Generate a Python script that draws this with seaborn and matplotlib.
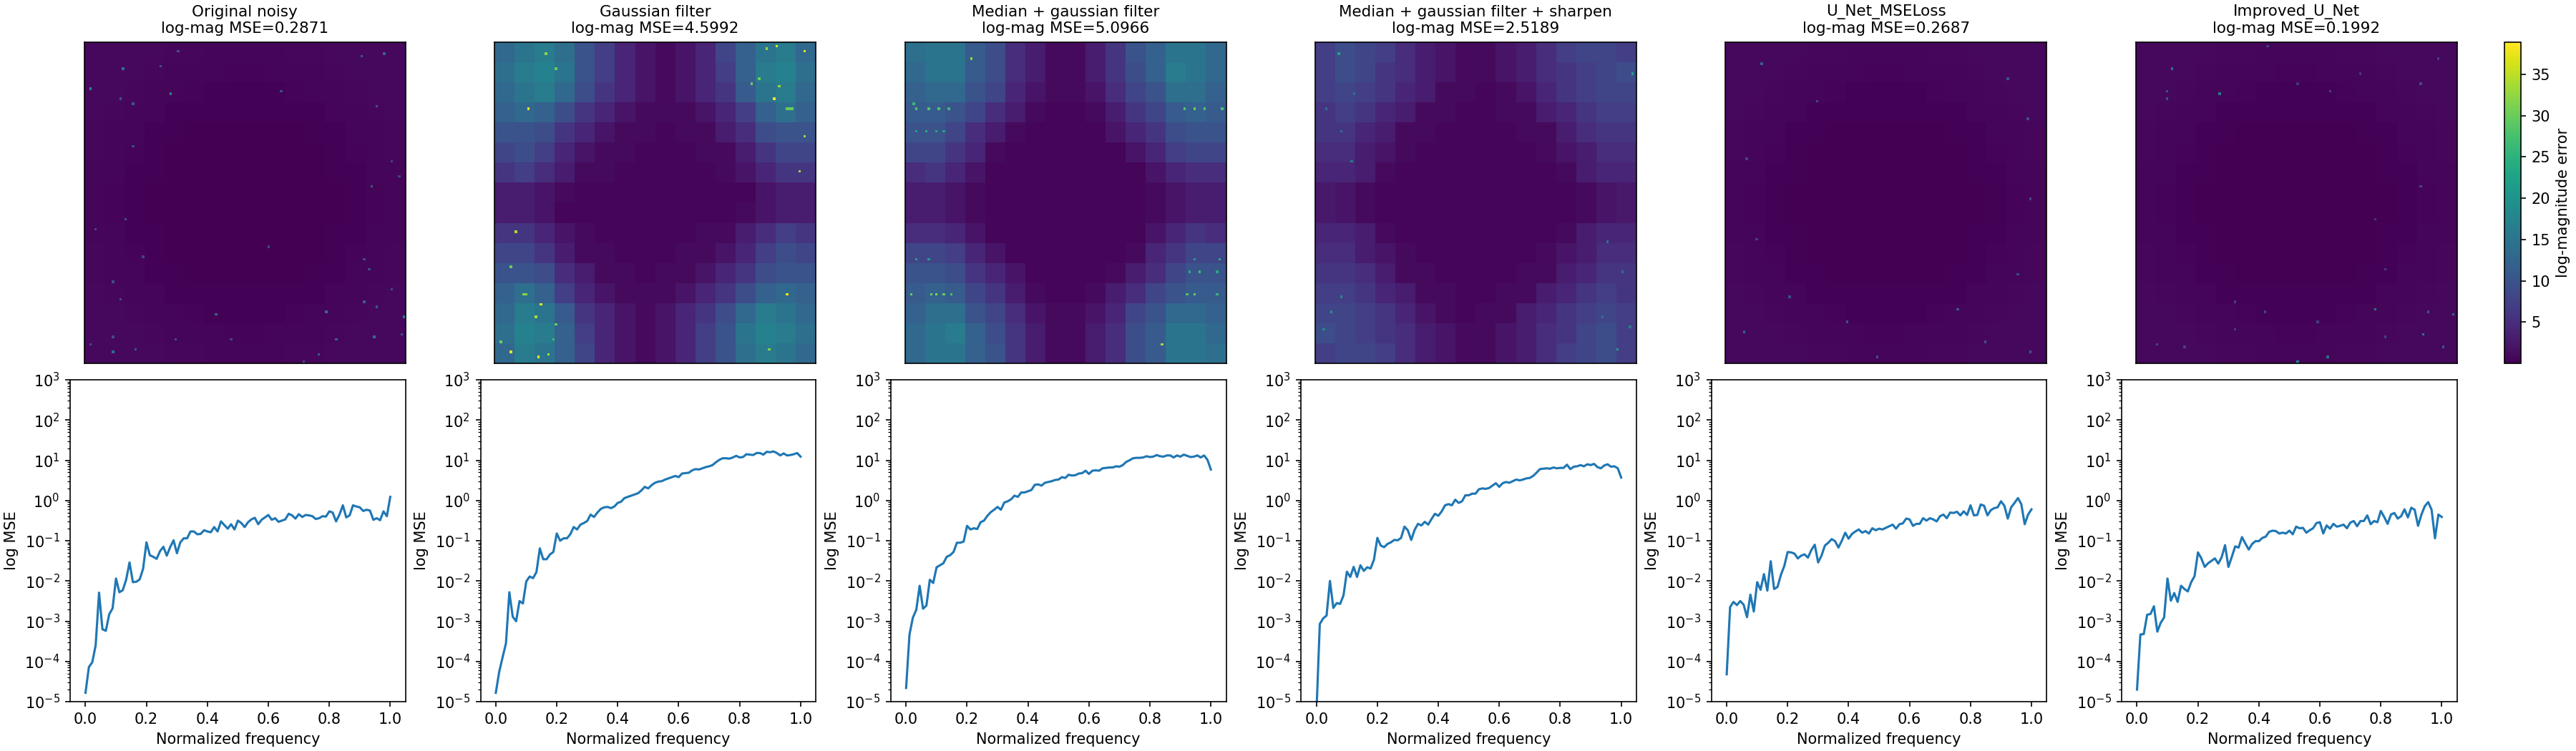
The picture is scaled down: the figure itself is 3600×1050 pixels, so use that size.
import numpy as np
import matplotlib
matplotlib.use("Agg")
import matplotlib.pyplot as plt
import seaborn as sns

titles = ["Original noisy", "Gaussian filter", "Median + gaussian filter",
          "Median + gaussian filter + sharpen", "U_Net_MSELoss", "Improved_U_Net"]
mse_values = ["0.2871", "4.5992", "5.0966", "2.5189", "0.2687", "0.1992"]
cbar_ticks = [5, 10, 15, 20, 25, 30, 35]
x_ticks = [0.0, 0.2, 0.4, 0.6, 0.8, 1.0]

# log10 of the radial MSE, one value per frequency bin
noisy_log = [-4.78,-4.14,-4.02,-3.60,-2.29,-3.20,-3.24,-2.83,-2.68,-1.94,-2.28,-2.23,-1.97,-1.54,-2.03,-2.02,-1.96,-1.70,-1.04,-1.36,
             -1.40,-1.45,-1.26,-1.15,-1.37,-1.16,-0.99,-1.31,-1.04,-0.94,-0.94,-0.77,-0.77,-0.84,-0.83,-0.74,-0.77,-0.79,-0.66,-0.77,
             -0.52,-0.61,-0.70,-0.59,-0.72,-0.50,-0.56,-0.66,-0.54,-0.47,-0.43,-0.59,-0.48,-0.42,-0.36,-0.48,-0.44,-0.53,-0.50,-0.47,
             -0.33,-0.37,-0.45,-0.34,-0.41,-0.36,-0.37,-0.39,-0.46,-0.44,-0.39,-0.40,-0.27,-0.30,-0.52,-0.35,-0.12,-0.42,-0.37,-0.12,
             -0.15,-0.17,-0.26,-0.23,-0.25,-0.48,-0.44,-0.49,-0.27,-0.39,0.09]
gaussian_log = [-4.78,-4.26,-3.90,-3.55,-2.28,-2.89,-3.00,-2.50,-2.56,-2.01,-1.89,-1.93,-1.78,-1.19,-1.46,-1.46,-1.34,-1.28,-0.82,-1.00,
                -0.94,-0.94,-0.84,-0.66,-0.72,-0.60,-0.56,-0.51,-0.35,-0.41,-0.30,-0.21,-0.17,-0.16,-0.19,-0.15,-0.06,-0.03,0.06,0.09,
                0.12,0.15,0.18,0.25,0.34,0.30,0.38,0.44,0.47,0.48,0.52,0.55,0.58,0.61,0.58,0.67,0.68,0.69,0.75,0.78,
                0.77,0.80,0.83,0.85,0.88,0.95,1.01,1.05,1.05,1.04,1.07,1.11,1.07,1.08,1.15,1.14,1.13,1.18,1.18,1.14,
                1.21,1.20,1.22,1.18,1.12,1.17,1.12,1.13,1.15,1.18,1.09]
median_log = [-4.66,-3.33,-2.91,-2.72,-2.12,-2.69,-2.61,-1.97,-2.05,-1.66,-1.61,-1.56,-1.40,-1.36,-1.28,-1.05,-1.05,-1.02,-0.63,-0.72,
              -0.69,-0.71,-0.54,-0.50,-0.38,-0.29,-0.23,-0.16,-0.23,-0.05,-0.02,0.03,0.12,0.09,0.20,0.20,0.23,0.26,0.39,0.40,
              0.37,0.44,0.46,0.48,0.51,0.52,0.58,0.56,0.64,0.62,0.63,0.67,0.68,0.74,0.66,0.74,0.75,0.74,0.80,0.81,
              0.82,0.82,0.85,0.84,0.88,0.96,1.00,1.05,1.06,1.06,1.07,1.10,1.08,1.09,1.13,1.10,1.09,1.12,1.12,1.07,
              1.12,1.09,1.14,1.11,1.08,1.09,1.12,1.07,1.12,1.01,0.77]
sharpen_log = [-5.30,-3.07,-2.93,-2.86,-2.00,-2.67,-2.55,-2.57,-2.36,-1.77,-1.90,-1.65,-1.90,-1.61,-1.75,-1.66,-1.69,-1.47,-0.93,-1.12,
               -1.16,-1.08,-1.04,-0.98,-0.99,-0.93,-0.65,-0.74,-0.98,-0.73,-0.58,-0.62,-0.53,-0.60,-0.46,-0.33,-0.38,-0.27,-0.12,-0.09,
               -0.12,0.02,-0.06,-0.02,0.13,0.13,0.17,0.17,0.28,0.30,0.29,0.31,0.37,0.43,0.34,0.43,0.46,0.44,0.48,0.52,
               0.50,0.52,0.55,0.56,0.61,0.69,0.78,0.79,0.80,0.79,0.82,0.80,0.81,0.81,0.89,0.78,0.84,0.85,0.88,0.85,
               0.90,0.88,0.91,0.83,0.80,0.87,0.90,0.84,0.85,0.80,0.57]
unet_log = [-4.32,-2.65,-2.52,-2.60,-2.50,-2.59,-2.90,-2.34,-2.76,-2.03,-2.22,-1.83,-2.24,-1.51,-2.20,-2.15,-1.85,-1.63,-1.28,-1.29,
            -1.32,-1.44,-1.37,-1.34,-1.42,-1.23,-1.10,-1.54,-1.37,-1.12,-1.05,-0.96,-1.01,-1.17,-1.00,-0.80,-0.95,-0.83,-0.77,-0.72,
            -0.80,-0.76,-0.82,-0.69,-0.74,-0.70,-0.72,-0.68,-0.64,-0.60,-0.70,-0.59,-0.57,-0.45,-0.47,-0.63,-0.58,-0.58,-0.44,-0.50,
            -0.44,-0.47,-0.52,-0.39,-0.35,-0.44,-0.30,-0.31,-0.28,-0.37,-0.27,-0.36,-0.12,-0.37,-0.36,-0.10,-0.13,-0.37,-0.24,-0.19,
            -0.17,-0.02,-0.13,-0.45,-0.17,-0.06,0.06,-0.09,-0.59,-0.35,-0.22]
improved_log = [-4.70,-3.33,-3.32,-2.84,-2.82,-2.63,-3.26,-3.04,-2.91,-1.94,-2.49,-2.30,-2.52,-2.12,-2.20,-2.26,-2.03,-1.88,-1.29,-1.44,
                -1.65,-1.56,-1.50,-1.44,-1.57,-1.41,-1.11,-1.65,-1.40,-1.14,-1.17,-0.91,-1.07,-1.22,-1.08,-1.01,-1.01,-0.93,-0.90,-0.78,
                -0.75,-0.76,-0.82,-0.80,-0.82,-0.75,-0.84,-0.65,-0.69,-0.68,-0.80,-0.74,-0.69,-0.56,-0.54,-0.82,-0.62,-0.70,-0.58,-0.65,
                -0.63,-0.60,-0.69,-0.55,-0.51,-0.64,-0.51,-0.51,-0.37,-0.59,-0.51,-0.54,-0.26,-0.41,-0.58,-0.35,-0.31,-0.45,-0.39,-0.22,
                -0.42,-0.18,-0.23,-0.63,-0.35,-0.14,-0.04,-0.23,-0.94,-0.35,-0.41]
curves = [noisy_log, gaussian_log, median_log, sharpen_log, unet_log, improved_log]

# error level per 16x16 block, top half only (the spectrum is point symmetric)
quiet_top = [[0.9,0.9,0.8,0.8,0.7,0.7,0.6,0.5,0.5,0.6,0.7,0.7,0.8,0.8,0.9,0.9],
             [0.9,0.8,0.8,0.7,0.6,0.5,0.5,0.4,0.4,0.5,0.5,0.6,0.7,0.8,0.8,0.9],
             [0.8,0.8,0.7,0.6,0.5,0.4,0.3,0.3,0.3,0.3,0.4,0.5,0.6,0.7,0.8,0.8],
             [0.8,0.7,0.6,0.5,0.3,0.2,0.2,0.2,0.2,0.2,0.2,0.3,0.5,0.6,0.7,0.8],
             [0.7,0.6,0.5,0.3,0.2,0.1,0.1,0.1,0.1,0.1,0.1,0.2,0.3,0.5,0.6,0.7],
             [0.7,0.5,0.4,0.2,0.1,0.1,0.1,0.1,0.1,0.1,0.1,0.1,0.2,0.4,0.5,0.7],
             [0.6,0.5,0.3,0.2,0.1,0.1,0.1,0.1,0.1,0.1,0.1,0.1,0.2,0.3,0.5,0.6],
             [0.6,0.4,0.3,0.1,0.1,0.1,0.1,0.1,0.1,0.1,0.1,0.1,0.1,0.3,0.4,0.6]]
gaussian_top = [[13,15,16,14,10,7,4,2,1,2,4,8,12,15,16,13],
                [14,16,17,15,10,7,4,2,1,2,4,7,12,16,17,14],
                [13,15,16,13,9,6,4,2,1,2,4,6,11,15,16,13],
                [12,13,12,9,6,4,2,1,1,1,2,4,7,12,14,12],
                [10,10,9,6,4,2,1,1,0.5,1,1,3,5,9,10,10],
                [8,9,7,4,2,1,1,0.5,0.5,0.5,1,1,3,6,8,8],
                [6,7,5,3,1,1,0.5,0.5,0.5,0.5,0.5,1,2,4,6,6],
                [3,3,2,1,0.5,0.5,0.5,0.5,0.5,0.5,0.5,0.5,0.5,2,3,3]]
median_top = [[14,15,15,11,9,5,3,1,1,3,6,10,12,15,15,13],
              [13,15,15,11,9,5,3,1,1,3,6,9,12,16,15,13],
              [12,13,13,10,8,4,2,1,1,2,5,8,10,14,14,12],
              [11,11,10,8,5,3,1,0.5,0.5,1,3,6,8,11,12,11],
              [10,10,8,5,3,1,0.5,0.5,0.5,0.5,2,4,6,9,10,10],
              [8,8,6,4,1,0.5,0.5,0.5,0.5,0.5,0.5,2,4,7,8,8],
              [5,6,4,2,0.5,0.5,0.5,0.5,0.5,0.5,0.5,0.5,2,4,5,5],
              [3,3,2,1,0.5,0.5,0.5,0.5,0.5,0.5,0.5,0.5,1,2,3,3]]
sharpen_top = [[7,9,8,7,5,3,2,1,1,2,3,5,7,8,8,7],
               [7,9,8,6,5,3,2,1,1,2,3,5,6,7,8,9],
               [7,8,7,6,4,3,1,1,0.5,1,2,4,6,7,8,8],
               [6,7,6,4,3,1,1,0.5,0.5,1,1,3,4,6,7,7],
               [6,6,4,3,1,1,0.5,0.5,0.5,0.5,1,1,3,5,6,6],
               [5,5,3,2,1,0.5,0.5,0.5,0.5,0.5,0.5,1,2,3,5,5],
               [4,4,3,1,0.5,0.5,0.5,0.5,0.5,0.5,0.5,0.5,1,3,4,4],
               [2.5,2,1,0.5,0.5,0.5,0.5,0.5,0.5,0.5,0.5,0.5,0.5,1,2,2.5]]
block_tops = [quiet_top, gaussian_top, median_top, sharpen_top, quiet_top, quiet_top]

# single bright cells as (row, col, error)
noisy_hot = [(18,2,18),(10,15,14),(20,34,16),(9,30,10),(24,19,11),(22,14,10),(3,37,10),(5,110,12),(4,119,12),(19,78,10),
             (25,116,11),(41,19,9),(57,114,11),(70,16,10),(74,4,8),(81,73,8),(85,23,8),(86,111,9),(90,113,9),(95,11,9),
             (98,122,9),(102,14,10),(103,111,12),(105,116,11),(107,96,14),(108,52,13),(109,127,16),(116,126,10),(117,115,14),
             (118,100,12),(118,36,9),(117,11,9),(123,11,14),(122,20,11),(124,93,12),(127,87,9),(118,58,8),(120,2,8),(47,122,8),(53,125,8)]
gaussian_hot = [(1,112,38),(2,108,33),(3,123,38),(4,20,32),(22,111,38),(26,13,38),(26,116,30),(26,117,30),(26,118,30),(37,123,33),
                (51,121,33),(75,8,34),(89,6,30),(100,116,38),(100,11,32),(100,12,32),(104,18,38),(109,16,34),(123,6,38),(125,17,38),
                (124,21,34),(112,24,30),(122,109,32),(10,24,30),(16,102,30),(14,105,30),(17,113,33),(119,2,30),(118,23,27)]
median_hot = [(6,26,32),(24,3,26),(26,4,28),(26,9,28),(26,13,28),(26,17,26),(26,111,28),(26,115,30),(26,119,28),(26,126,28),
              (35,4,22),(35,8,24),(35,12,24),(35,15,22),(100,2,30),(100,10,30),(100,12,32),(100,15,30),(100,18,28),(100,112,28),
              (100,115,30),(100,124,26),(91,113,24),(91,117,26),(91,124,24),(120,102,34),(86,4,22),(86,9,22),(86,115,22),(86,125,24)]
sharpen_hot = [(4,9,22),(12,126,22),(47,14,16),(79,116,15),(122,120,22),(107,6,20),(114,3,18),(91,122,14),(101,10,18),(26,4,14),
               (35,10,14),(20,15,15),(109,114,14),(113,125,16)]
unet_hot = [(8,14,11),(14,112,10),(23,36,9),(30,120,9),(46,8,8),(62,121,8),(78,12,8),(92,116,9),(101,25,9),(106,92,11),
            (111,48,9),(115,7,12),(119,103,10),(123,121,11),(125,60,9)]
improved_hot = [(10,14,14),(20,33,16),(19,12,10),(22,12,9),(127,64,18),(106,95,15),(116,114,16),(125,76,13),(108,126,13),(107,116,10),
                (121,122,10),(16,113,9),(6,120,7),(57,113,8),(107,51,8),(117,99,8),(103,39,7),(114,39,7),(1,52,7),(120,8,8),
                (121,19,8),(111,72,7),(90,99,7),(70,95,6),(12,89,6),(19,77,7),(16,64,6)]
hot_cells = [noisy_hot, gaussian_hot, median_hot, sharpen_hot, unet_hot, improved_hot]

fig = plt.figure(figsize=(24, 7), dpi=150)
W, H = 3600.0, 1050.0

# axes are placed by pixel to follow the original grid
cbar_ax = fig.add_axes([3500 / W, (H - 508) / H, 23 / W, 449 / H])

for i, title in enumerate(titles):
    right = 566.7 + i * 573.4

    # error map on top
    ax_map = fig.add_axes([(right - 449) / W, (H - 508) / H, 449 / W, 449 / H])
    top = np.array(block_tops[i], dtype=float)
    blocks = np.vstack([top, top[::-1, ::-1]])
    grid = np.kron(blocks, np.ones((8, 8)))
    for row, col, err in hot_cells[i]:
        grid[row, col] = err

    last = i == len(titles) - 1
    sns.heatmap(grid, ax=ax_map, cmap="viridis", vmin=0, vmax=38.9, square=True,
                xticklabels=False, yticklabels=False, cbar=last,
                cbar_ax=cbar_ax if last else None,
                cbar_kws={"label": "log-magnitude error", "ticks": cbar_ticks} if last else None,
                rasterized=True)
    ax_map.set_title(f"{title}\nlog-mag MSE={mse_values[i]}", fontsize=10.3)
    for spine in ax_map.spines.values():
        spine.set_visible(True)
        spine.set_linewidth(0.8)
        spine.set_color("black")
    if last:
        cb = ax_map.collections[0].colorbar
        cb.outline.set_visible(True)
        cb.outline.set_linewidth(0.8)
        cb.outline.set_edgecolor("black")
        cb.ax.tick_params(labelsize=10, length=3.5, width=0.8)
        cb.ax.yaxis.label.set_size(10)

    # radial error curve below
    ax_line = fig.add_axes([(right - 468.5) / W, (H - 981) / H, 468.5 / W, 450 / H])
    log_vals = np.array(curves[i])
    freq = np.linspace(0, 1, len(log_vals))
    sns.lineplot(x=freq, y=10.0 ** log_vals, ax=ax_line, estimator=None, errorbar=None,
                 color="#1f77b4", linewidth=1.5)
    ax_line.set_yscale("log")
    ax_line.set_ylim(1e-5, 1e3)
    ax_line.set_xlim(-0.05, 1.05)
    ax_line.set_xticks(x_ticks)
    ax_line.set_xlabel("Normalized frequency")
    ax_line.set_ylabel("log MSE")

fig.savefig("out.png", dpi=150)
